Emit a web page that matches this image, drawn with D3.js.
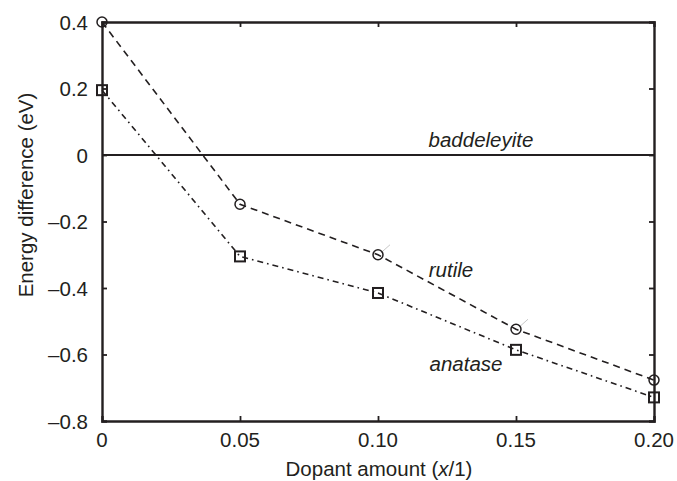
<!DOCTYPE html>
<html>
<head>
<meta charset="utf-8">
<script src="https://cdn.jsdelivr.net/npm/d3@7"></script>
<style>
  body { margin: 0; background: #fff; }
  svg text { font-family: "Liberation Sans", Arial, sans-serif; fill: #231f20; }
</style>
</head>
<body>
<div id="chart"></div>
<script>
// data
var dopant = [0, 0.05, 0.10, 0.15, 0.20];
var rutile = [0.40, -0.148, -0.30, -0.524, -0.677];
var anatase = [0.195, -0.305, -0.415, -0.586, -0.729];
var baddeleyite = [0, 0, 0, 0, 0];
var xTicks = [0, 0.05, 0.10, 0.15, 0.20];
var xTickLabels = ["0", "0.05", "0.10", "0.15", "0.20"];
var yTicks = [0.4, 0.2, 0, -0.2, -0.4, -0.6, -0.8];
var yTickLabels = ["0.4", "0.2", "0", "\u20130.2", "\u20130.4", "\u20130.6", "\u20130.8"];

var w = 677, h = 481;
var ink = "#231f20";
var fs = 20.5;

var svg = d3.select("#chart").append("svg")
    .attr("width", w)
    .attr("height", h);

var x = d3.scaleLinear().domain([0, 0.2]).range([102, 654]);
var y = d3.scaleLinear().domain([-0.8, 0.4]).range([421, 22]);

// frame with inward ticks
var tickLen = 5;
var axB = d3.axisTop(x).tickValues(xTicks.slice(1, -1)).tickSize(tickLen).tickFormat("");
var axT = d3.axisBottom(x).tickValues(xTicks.slice(1, -1)).tickSize(tickLen).tickFormat("");
var axL = d3.axisRight(y).tickValues(yTicks.slice(1, -1)).tickSize(tickLen).tickFormat("");
var axR = d3.axisLeft(y).tickValues(yTicks.slice(1, -1)).tickSize(tickLen).tickFormat("");

[[axB, "translate(0," + y(-0.8) + ")"], [axT, "translate(0," + y(0.4) + ")"],
 [axL, "translate(" + x(0) + ",0)"], [axR, "translate(" + x(0.2) + ",0)"]].forEach(function(a) {
    var g = svg.append("g").attr("transform", a[1]).call(a[0]);
    g.select(".domain").attr("stroke", ink).attr("stroke-width", 2.4);
    g.selectAll(".tick line").attr("stroke", ink).attr("stroke-width", 1.8);
});

// tick labels
svg.selectAll(".xlab").data(xTicks).enter().append("text")
    .attr("x", function(d) { return x(d); })
    .attr("y", 447)
    .attr("text-anchor", "middle")
    .attr("font-size", fs)
    .text(function(d, i) { return xTickLabels[i]; });

svg.selectAll(".ylab").data(yTicks).enter().append("text")
    .attr("x", 88)
    .attr("y", function(d) { return y(d) + 7.5; })
    .attr("text-anchor", "end")
    .attr("font-size", fs)
    .text(function(d, i) { return yTickLabels[i]; });

// axis titles
svg.append("text")
    .attr("transform", "translate(33,195) rotate(-90)")
    .attr("text-anchor", "middle")
    .attr("font-size", fs)
    .text("Energy difference (eV)");

var xt = svg.append("text")
    .attr("x", 379)
    .attr("y", 476)
    .attr("text-anchor", "middle")
    .attr("font-size", fs);
xt.append("tspan").text("Dopant amount (");
xt.append("tspan").attr("font-style", "italic").text("x");
xt.append("tspan").text("/1)");

// lines
var line = function(vals) {
    return d3.line()
        .x(function(d, i) { return x(dopant[i]); })
        .y(function(d) { return y(d); })(vals);
};

svg.append("path")
    .attr("d", line(baddeleyite))
    .attr("fill", "none")
    .attr("stroke", ink)
    .attr("stroke-width", 1.8);

svg.append("path")
    .attr("d", line(rutile))
    .attr("fill", "none")
    .attr("stroke", ink)
    .attr("stroke-width", 1.6)
    .attr("stroke-dasharray", "7,5");

svg.append("path")
    .attr("d", line(anatase))
    .attr("fill", "none")
    .attr("stroke", ink)
    .attr("stroke-width", 1.6)
    .attr("stroke-dasharray", "6,4,1.6,4");

// faint grey marks next to some rutile points
svg.selectAll(".faint").data([2, 3]).enter().append("line")
    .attr("x1", function(i) { return x(dopant[i]) + 3; })
    .attr("y1", function(i) { return y(rutile[i]) - 2; })
    .attr("x2", function(i) { return x(dopant[i]) + 12; })
    .attr("y2", function(i) { return y(rutile[i]) - 10; })
    .attr("stroke", "#c8c8c8")
    .attr("stroke-width", 1);

// markers
svg.selectAll(".circ").data(rutile).enter().append("circle")
    .attr("cx", function(d, i) { return x(dopant[i]); })
    .attr("cy", function(d) { return y(d); })
    .attr("r", 5)
    .attr("fill", "none")
    .attr("stroke", ink)
    .attr("stroke-width", 1.5);

svg.selectAll(".sq").data(anatase).enter().append("rect")
    .attr("x", function(d, i) { return x(dopant[i]) - 5; })
    .attr("y", function(d) { return y(d) - 5; })
    .attr("width", 10)
    .attr("height", 10)
    .attr("fill", "none")
    .attr("stroke", ink)
    .attr("stroke-width", 2);

// series labels
svg.append("text").attr("x", 481).attr("y", 147).attr("text-anchor", "middle")
    .attr("font-size", fs).attr("font-style", "italic").text("baddeleyite");
svg.append("text").attr("x", 451).attr("y", 277).attr("text-anchor", "middle")
    .attr("font-size", fs).attr("font-style", "italic").text("rutile");
svg.append("text").attr("x", 466).attr("y", 371).attr("text-anchor", "middle")
    .attr("font-size", fs).attr("font-style", "italic").text("anatase");
</script>
</body>
</html>
